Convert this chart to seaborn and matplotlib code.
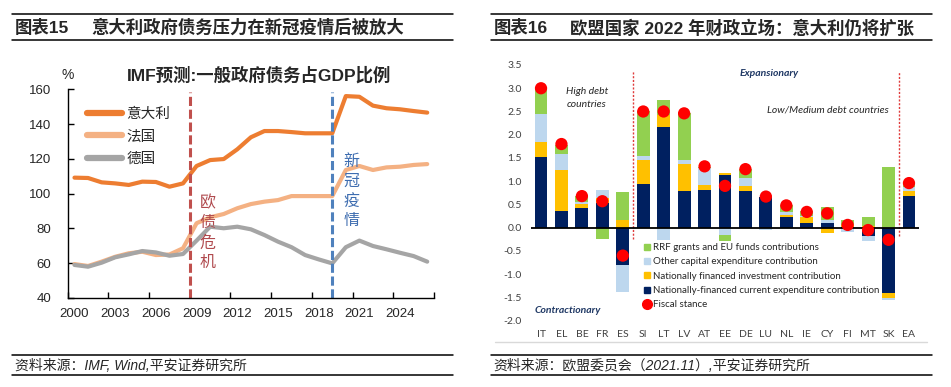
import numpy as np
import pandas as pd
import seaborn as sns
import matplotlib.pyplot as plt
from matplotlib.lines import Line2D

# ---- left panel data: IMF general government debt, % of GDP
years = list(range(2000, 2027))
italy = [109.2, 109.0, 106.5, 105.9, 105.0, 106.9, 106.7, 104.0, 105.9, 115.9,
         119.3, 119.9, 125.5, 132.4, 136.0, 136.0, 135.4, 134.7, 134.7, 134.7,
         156.1, 155.7, 150.6, 149.1, 148.5, 147.5, 146.6]
france = [59.5, 58.4, 60.9, 63.7, 65.7, 66.6, 64.7, 65.0, 68.6, 83.0,
          86.4, 88.3, 91.6, 94.0, 95.4, 96.3, 98.6, 98.6, 98.6, 98.6,
          113.6, 115.9, 113.6, 115.1, 115.5, 116.5, 117.0]
germany = [59.0, 58.0, 60.3, 63.4, 65.1, 67.0, 66.2, 64.3, 65.3, 73.0,
           81.0, 80.1, 81.0, 79.5, 76.2, 72.4, 69.2, 64.7, 62.2, 59.9,
           69.2, 73.0, 69.9, 68.0, 66.0, 64.1, 60.9]
line_names = ["意大利", "法国", "德国"]
line_colors = ["#ED7D31", "#F4B183", "#A5A5A5"]

# ---- right panel data: 2022 fiscal stance contributions
countries = ["IT", "EL", "BE", "FR", "ES", "SI", "LT", "LV", "AT", "EE",
             "DE", "LU", "NL", "IE", "CY", "FI", "MT", "SK", "EA"]
current_exp = [1.52, 0.35, 0.43, 0.53, -0.80, 0.93, 2.16, 0.78, 0.81, 1.14,
               0.80, 0.67, 0.22, 0.10, 0.11, 0.02, -0.18, -1.41, 0.68]
nat_invest = [0.32, 0.90, 0.08, 0.10, 0.17, 0.53, 0.26, 0.60, 0.11, 0.03,
              0.10, 0.00, 0.05, 0.12, -0.12, 0.03, 0.04, -0.11, 0.10]
other_capex = [0.60, 0.33, 0.05, 0.18, -0.58, 0.08, -0.26, 0.08, 0.36, -0.16,
               0.18, -0.04, 0.06, 0.03, 0.05, -0.09, -0.11, -0.03, 0.10]
rrf_funds = [0.57, 0.20, 0.13, -0.24, 0.59, 0.96, 0.33, 1.00, 0.03, -0.12,
             0.18, 0.00, 0.15, 0.10, 0.28, 0.11, 0.19, 1.30, 0.06]
fiscal_stance = [3.0, 1.8, 0.68, 0.57, -0.6, 2.5, 2.5, 2.46, 1.32, 0.9,
                 1.26, 0.67, 0.48, 0.34, 0.31, 0.06, -0.05, -0.26, 0.96]
stack_labels = ["Nationally-financed current expenditure contribution",
                "Nationally financed investment contribution",
                "Other capital expenditure contribution",
                "RRF grants and EU funds contributions"]
stack_colors = ["#002060", "#FFC000", "#BDD7EE", "#92D050"]

sns.set_theme(style="white")
plt.rcParams['font.family'] = ['Liberation Sans', 'Noto Sans CJK SC']

W, H = 951, 387
fig = plt.figure(figsize=(W / 100, H / 100), dpi=100)


def fx(px):
    return px / W


def fy(py):
    return 1 - py / H


def hline(x0, x1, y, color="black", lw=1.1):
    fig.add_artist(Line2D([fx(x0), fx(x1)], [fy(y), fy(y)], color=color, lw=lw))


# ---- headers / footers
for x0, x1 in [(12, 453), (491, 932)]:
    hline(x0, x1, 14.3)
    hline(x0, x1, 39.5)
    hline(x0, x1, 355.3)
    hline(x0, x1, 374.5)
hb = dict(fontsize=12.5, fontweight="bold", va="center")
fig.text(fx(15), fy(27.5), "图表15", **hb)
fig.text(fx(91), fy(27.5), "意大利政府债务压力在新冠疫情后被放大", **hb)
fig.text(fx(494), fy(27.5), "图表16", **hb)
fig.text(fx(570), fy(27.5), "欧盟国家 2022 年财政立场：意大利仍将扩张", **hb)
fig.text(fx(15), fy(366), "资料来源：IMF, Wind,平安证券研究所",
         fontsize=10, style="italic", va="center")
fig.text(fx(493), fy(366), "资料来源：欧盟委员会（2021.11）,平安证券研究所",
         fontsize=10, style="italic", va="center")

# ---- left panel
ax1 = fig.add_axes([fx(67.7), fy(298), fx(434) - fx(67.7), fy(89.3) - fy(298)])
df = pd.DataFrame({
    "pos": [y + 0.5 for y in years] * 3,
    "value": italy + france + germany,
    "country": sum([[n] * len(years) for n in line_names], []),
})
sns.lineplot(data=df, x="pos", y="value", hue="country", hue_order=line_names,
             palette=line_colors, linewidth=3, ax=ax1)
ax1.set_xlim(2000, 2027)
ax1.set_ylim(40, 160)
ax1.set_xlabel("")
ax1.set_ylabel("")
ax1.set_xticks(range(2000, 2028, 3), labels=[""] * 10)
ax1.set_xticks([y + 0.5 for y in range(2000, 2025, 3)],
               labels=[str(y) for y in range(2000, 2025, 3)], minor=True)
ax1.set_yticks(range(40, 161, 20))
ax1.tick_params(axis="x", which="major", direction="in", length=4, width=1, color="black")
ax1.tick_params(axis="x", which="minor", length=0, pad=7, labelsize=9.5)
ax1.tick_params(axis="y", direction="in", length=4, width=1, color="black", pad=12, labelsize=9.5)
ax1.tick_params(left=True, bottom=True)
for s in ["top", "right"]:
    ax1.spines[s].set_visible(False)
for s in ["left", "bottom"]:
    ax1.spines[s].set_color("black")
    ax1.spines[s].set_linewidth(1)

ax1.axvline(2009.0, ymax=0.985, color="#C0504D", lw=2.2, ls=(0, (3, 1.2)))
ax1.axvline(2019.5, ymax=0.985, color="#4F81BD", lw=2.2, ls=(0, (3, 1.2)))
ax1.text(2010.3, 77.5, "欧\n债\n危\n机", color="#B04A4E", fontsize=11.5,
         ha="center", va="center", linespacing=1.4)
ax1.text(2020.9, 101.5, "新\n冠\n疫\n情", color="#3E6DB0", fontsize=11.5,
         ha="center", va="center", linespacing=1.4)

leg = ax1.legend(loc="upper left", bbox_to_anchor=(fx(87), fy(107)),
                 bbox_transform=fig.transFigure, frameon=False, fontsize=10.5,
                 handlelength=2.4, handletextpad=0.3, labelspacing=0.58,
                 borderpad=0, borderaxespad=0)
for h in leg.get_lines():
    h.set_linewidth(4.5)

fig.text(fx(68), fy(75), "%", fontsize=10, ha="center", va="center")
fig.text(fx(258.7), fy(75), "IMF预测:一般政府债务占GDP比例", fontsize=12.5,
         fontweight="bold", ha="center", va="center")

# ---- right panel
ax2 = fig.add_axes([fx(530.8), fy(320.7), fx(919.2) - fx(530.8), fy(65) - fy(320.7)])
n = len(countries)
pos_base = np.zeros(n)
neg_base = np.zeros(n)
for vals, color in zip([current_exp, nat_invest, other_capex, rrf_funds], stack_colors):
    v = np.array(vals)
    base = np.where(v >= 0, pos_base, neg_base)
    sns.barplot(x=countries, y=v, bottom=base, color=color, saturation=1,
                width=0.63, errorbar=None, linewidth=0, ax=ax2)
    pos_base += np.clip(v, 0, None)
    neg_base += np.clip(v, None, 0)

ax2.axhline(0, color="black", lw=1.3, zorder=4)
ax2.vlines([4.5, 17.5], [-0.25, -0.18], [3.38, 3.34], colors="#E03C3C",
           linestyles=(0, (1.5, 1.2)), lw=1, zorder=3)
sns.scatterplot(x=np.arange(n), y=fiscal_stance, color="#FF0000", s=78,
                edgecolor="none", ax=ax2, zorder=5)
ax2.set_xlim(-0.5, n - 0.5)
ax2.set_ylim(-2.0, 3.5)
ax2.set_yticks(np.arange(-2.0, 3.51, 0.5),
               labels=[f"{v:.1f}" for v in np.arange(-2.0, 3.51, 0.5)])
ax2.set_xticks(range(n), labels=countries)
ax2.tick_params(axis="both", length=0, labelsize=7.5, labelcolor="#404040")
ax2.tick_params(axis="y", pad=6.5)
ax2.tick_params(axis="x", pad=7)
for lab in ax2.get_xticklabels() + ax2.get_yticklabels():
    lab.set_fontfamily("Lato")
for s in ax2.spines.values():
    s.set_visible(False)
hline(495, 927, 341.7, color="#D9D9D9", lw=1)

def ftext(x, y, s, **kw):
    fig.text(fx(x), fy(y), s, family="Lato", va="center", **kw)

ftext(587, 91.7, "High debt", fontsize=7.5, style="italic", ha="center", color="#262626")
ftext(587, 104.3, "countries", fontsize=7.5, style="italic", ha="center", color="#262626")
ftext(740, 73.3, "Expansionary", fontsize=7.5, style="italic", fontweight="bold", color="#1F3864")
ftext(767, 110, "Low/Medium debt countries", fontsize=7.5, style="italic", color="#262626")
ftext(535, 310.7, "Contractionary", fontsize=7.5, style="italic", fontweight="bold", color="#1F3864")

handles = [Line2D([], [], marker="s", ls="", color=c, markersize=5)
           for c in stack_colors[::-1]]
handles.append(Line2D([], [], marker="o", ls="", color="#FF0000", markersize=7))
labels = stack_labels[::-1] + ["Fiscal stance"]
ax2.legend(handles, labels, loc="upper left", bbox_to_anchor=(fx(644), fy(243)),
           bbox_transform=fig.transFigure, frameon=False,
           prop={"family": "Lato", "size": 7}, handlelength=0.6,
           handletextpad=0.3, labelspacing=0.55, borderpad=0, borderaxespad=0)

fig.savefig("out.png", dpi=100, facecolor="white")
